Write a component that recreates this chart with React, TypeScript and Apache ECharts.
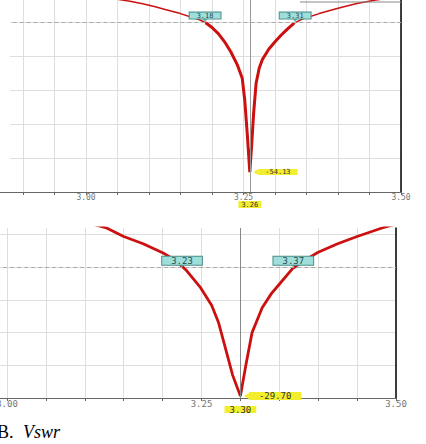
import { useEffect, useRef } from 'react';
import * as echarts from 'echarts';

// ---- Top plot (return loss, dB vs GHz) ----
const topFreq = [3.05, 3.07, 3.09, 3.11, 3.13, 3.15, 3.17, 3.18, 3.19, 3.2, 3.21, 3.22, 3.23, 3.24, 3.248, 3.252, 3.256, 3.26, 3.263, 3.266, 3.27, 3.275, 3.28, 3.29, 3.3, 3.31, 3.32, 3.33, 3.34, 3.35, 3.37, 3.4, 3.43, 3.46, 3.48];
const topDb = [-3.3, -3.9, -4.6, -5.5, -6.5, -7.5, -8.7, -9.3, -10.2, -11.6, -13.4, -15.8, -18.8, -22.5, -26.5, -33, -43, -54.13, -46, -37, -28, -23.5, -21, -18, -15.8, -13.8, -12, -10.4, -9.4, -8.7, -7.5, -5.9, -4.5, -3.5, -3.0];
const topDip = [3.26, -54.13];
const topCross = [3.189, 3.332];
const topCrossText = ['3.18', '3.31'];

// ---- Bottom plot ----
const botFreq = [3.11, 3.128, 3.15, 3.175, 3.2, 3.215, 3.23, 3.248, 3.263, 3.272, 3.281, 3.29, 3.3, 3.307, 3.315, 3.328, 3.34, 3.35, 3.367, 3.38, 3.4, 3.425, 3.45, 3.482, 3.5];
const botDb = [-3.4, -4.0, -5.3, -6.4, -7.8, -8.8, -10.4, -13.0, -15.8, -18.5, -22.5, -26.5, -29.7, -25, -20, -16.2, -14, -12.6, -10.2, -9.1, -7.7, -6.4, -5.3, -4.0, -3.4];
const botDip = [3.3, -29.7];
const botCross = [3.225, 3.368];
const botCrossText = ['3.23', '3.37'];

const refLevel = -10;

const RED = '#cc1010';
const YELLOW = '#f2ee2e';
const CYAN = '#9edfdc';
const GRID = '#dedede';

const fmtTick = (v: number) => (Math.abs(v * 4 - Math.round(v * 4)) < 1e-6 ? v.toFixed(2) : '');

function cyanPoint(f: number, text: string, fs: number, pad: number) {
  return {
    coord: [f, refLevel],
    value: text,
    symbol: 'triangle',
    symbolRotate: 180,
    symbolSize: [8, 5],
    symbolOffset: [0, -2.5],
    itemStyle: { color: '#5fb8b4' },
    label: {
      show: true,
      position: 'inside',
      offset: [0, -4],
      formatter: text,
      backgroundColor: CYAN,
      borderColor: '#4b8d8a',
      borderWidth: 1,
      padding: [0, pad],
      fontSize: fs,
      lineHeight: fs - 1,
      color: '#2a4a4a',
    },
  };
}

function dipPoint(p: number[], fs: number, pad: number) {
  return {
    coord: p,
    value: p[1],
    symbol: 'triangle',
    symbolRotate: 90,
    symbolSize: [6, 5],
    symbolOffset: [6, 0],
    itemStyle: { color: YELLOW },
    label: {
      show: true,
      position: 'right',
      distance: 0,
      formatter: (q: any) => Number(q.value).toFixed(2),
      backgroundColor: YELLOW,
      padding: [0, pad],
      fontSize: fs,
      lineHeight: fs - 1,
      color: '#333',
    },
  };
}

export default function App() {
  const ref = useRef<HTMLDivElement>(null);
  useEffect(() => {
    const chart = echarts.init(ref.current!, null, { renderer: 'svg' });
    const topData = topFreq.map((f, i) => [f, topDb[i]]);
    const topCore = topData.filter((d) => d[1] <= refLevel);
    const botData = botFreq.map((f, i) => [f, botDb[i]]);

    const xCommon = (fs: number) => ({
      type: 'value' as const,
      interval: 0.05,
      axisLine: { onZero: false, lineStyle: { color: '#666', width: 1 } },
      axisTick: { show: true, length: 3, lineStyle: { color: '#666' } },
      axisLabel: { formatter: fmtTick, fontSize: fs, color: '#777', margin: 1, fontFamily: 'DejaVu Sans Mono', hideOverlap: false },
      splitLine: { show: true, lineStyle: { color: GRID, width: 1 } },
    });

    chart.setOption({
      animation: false,
      textStyle: { fontFamily: 'DejaVu Sans Mono' },
      grid: [
        { left: -8.5, right: 25, top: 0, height: 192, containLabel: false, outerBoundsMode: 'none' },
        { left: -31.9, right: 30, top: 228, height: 170, containLabel: false, outerBoundsMode: 'none' },
      ],
      xAxis: [
        { ...xCommon(8), gridIndex: 0, min: 2.85, max: 3.5 },
        { ...xCommon(9), gridIndex: 1, min: 2.95, max: 3.5 },
      ],
      yAxis: [
        {
          type: 'value', gridIndex: 0, min: -60, max: -3.5, interval: 10,
          axisLine: { show: false }, axisTick: { show: false }, axisLabel: { show: false },
          splitLine: { show: true, showMaxLine: false, showMinLine: false, lineStyle: { color: GRID } },
        },
        {
          type: 'value', gridIndex: 0, position: 'right', min: -60, max: -3.5,
          axisLine: { show: true, lineStyle: { color: '#000', width: 1.5 } },
          axisTick: { show: false }, axisLabel: { show: false }, splitLine: { show: false },
        },
        {
          type: 'value', gridIndex: 1, min: -30, max: -4, interval: 5,
          axisLine: { show: false }, axisTick: { show: false }, axisLabel: { show: false },
          splitLine: { show: true, showMaxLine: false, showMinLine: false, lineStyle: { color: GRID } },
        },
        {
          type: 'value', gridIndex: 1, position: 'right', min: -30, max: -4,
          axisLine: { show: true, lineStyle: { color: '#000', width: 1.5 } },
          axisTick: { show: false }, axisLabel: { show: false }, splitLine: { show: false },
        },
      ],
      series: [
        {
          type: 'line', xAxisIndex: 0, yAxisIndex: 0, data: topData, showSymbol: false, symbol: 'none',
          lineStyle: { color: RED, width: 1.5 }, z: 3,
          markLine: {
            silent: true, symbol: ['none', 'none'], animation: false,
            data: [
              { yAxis: refLevel, lineStyle: { color: '#aaa', type: [4, 3], width: 1 }, label: { show: false } },
              {
                xAxis: topDip[0], lineStyle: { color: '#999', type: 'solid', width: 1 },
                label: {
                  show: true, position: 'start', distance: 9, formatter: (q: any) => Number(q.value).toFixed(2),
                  backgroundColor: YELLOW, padding: [0, 3], fontSize: 7, lineHeight: 7, color: '#333',
                },
              },
            ],
          },
          markPoint: {
            silent: true, animation: false,
            data: [
              dipPoint(topDip, 7, 7),
              cyanPoint(topCross[0], topCrossText[0], 7, 7),
              cyanPoint(topCross[1], topCrossText[1], 7, 7),
            ],
          },
        },
        {
          type: 'line', xAxisIndex: 0, yAxisIndex: 0, data: topCore, showSymbol: false, symbol: 'none',
          lineStyle: { color: RED, width: 3 }, z: 4,
        },
        {
          type: 'line', xAxisIndex: 1, yAxisIndex: 2, data: botData, showSymbol: false, symbol: 'none',
          lineStyle: { color: RED, width: 2.8 }, z: 3,
          markLine: {
            silent: true, symbol: ['none', 'none'], animation: false,
            data: [
              { yAxis: refLevel, lineStyle: { color: '#aaa', type: [4, 3], width: 1 }, label: { show: false } },
              {
                xAxis: botDip[0], lineStyle: { color: '#888', type: 'solid', width: 1 },
                label: {
                  show: true, position: 'start', distance: 8, formatter: (q: any) => Number(q.value).toFixed(2),
                  backgroundColor: YELLOW, padding: [0, 5], fontSize: 9, lineHeight: 7, color: '#333',
                },
              },
            ],
          },
          markPoint: {
            silent: true, animation: false,
            data: [
              dipPoint(botDip, 9, 10),
              cyanPoint(botCross[0], botCrossText[0], 9, 9),
              cyanPoint(botCross[1], botCrossText[1], 9, 9),
            ],
          },
        },
      ],
      graphic: [
        { type: 'rect', z: 100, shape: { x: 0, y: 0, width: 10, height: 191 }, style: { fill: '#fff' } },
        { type: 'line', z: 100, shape: { x1: 300, y1: 2, x2: 401, y2: 2 }, style: { stroke: '#888', lineWidth: 1 } },
        {
          type: 'text', z: 100, x: -3, y: 441,
          style: { text: 'B.', font: '18px "Liberation Serif"', fill: '#000', textVerticalAlign: 'bottom' },
        },
        {
          type: 'text', z: 100, x: 23, y: 441,
          style: { text: 'Vswr', font: 'italic 18px "Liberation Serif"', fill: '#000', textVerticalAlign: 'bottom' },
        },
      ],
    });
    return () => chart.dispose();
  }, []);
  return <div ref={ref} style={{ position: 'fixed', left: 0, top: 0, width: 426, height: 444, background: '#fff' }} />;
}
